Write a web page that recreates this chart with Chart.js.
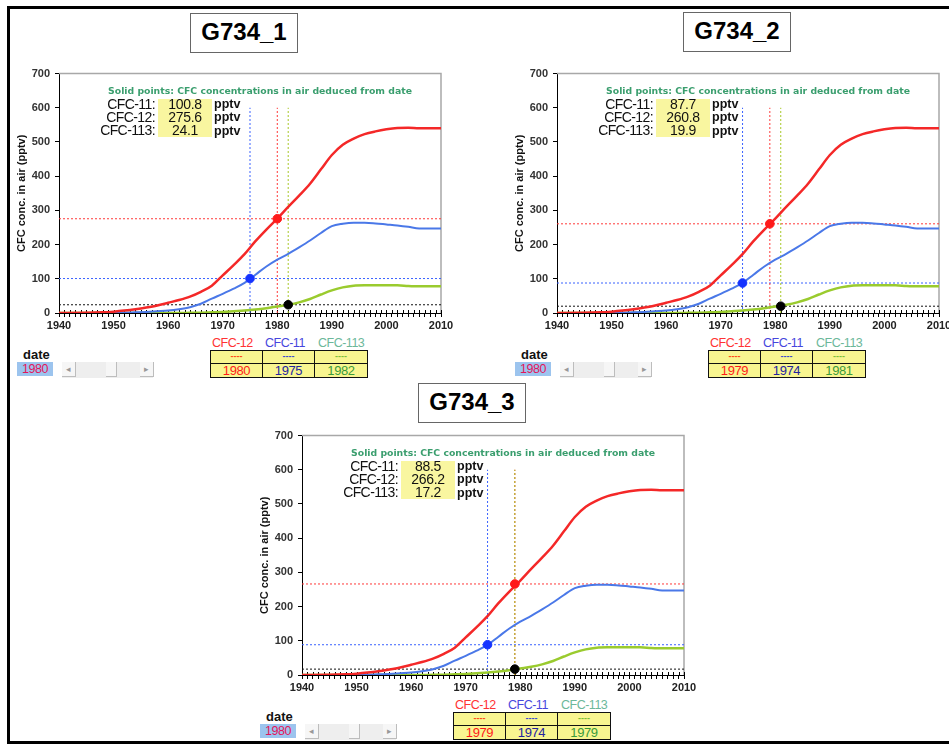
<!DOCTYPE html>
<html>
<head>
<meta charset="utf-8">
<script src="https://cdn.jsdelivr.net/npm/chart.js@4.4.0/dist/chart.umd.min.js"></script>
<style>
  body { margin: 0; width: 949px; height: 745px; overflow: hidden; position: relative; background: #fff;
         font-family: Arial, "Liberation Sans", sans-serif; }
  .frame { position: absolute; left: 7px; top: 6px; width: 990px; height: 738px; border: 3px solid #000; box-sizing: border-box; }
  .abs { position: absolute; white-space: nowrap; }
  .tbox { border: 1.5px solid #666; background: #fff; font: bold 24px Arial, "Liberation Sans", sans-serif;
          text-align: center; line-height: 36px; box-sizing: border-box; }
  canvas { position: absolute; }
  .note { font: bold 9.3px "DejaVu Sans", Verdana, sans-serif; color: #3a9e6e; text-align: center; line-height: 10px; }
  .lab { font-size: 14px; line-height: 13px; color: #111; text-align: right; letter-spacing: -0.6px; }
  .val { font-size: 14px; line-height: 13px; color: #111; text-align: center; letter-spacing: -0.3px; }
  .unit { font-size: 12.5px; font-weight: bold; line-height: 13px; color: #111; }
  .yel { background: #f9f6a0; }
  .head { font-size: 12.5px; line-height: 14px; letter-spacing: -0.5px; }
  .grid { display: grid; grid-template-columns: 1fr 1fr 1fr; grid-template-rows: 13px 13px; border: 1.5px solid #111;
          background: #f8f590; box-sizing: border-box; }
  .grid div { border-right: 1px solid #111; text-align: center; overflow: hidden; }
  .grid div:nth-child(3n) { border-right: none; }
  .grid div.r1 { border-bottom: 1px solid #111; font-size: 9px; line-height: 11px; font-weight: bold; }
  .grid div.r2 { font-size: 13px; line-height: 13px; letter-spacing: -0.4px; }
  .date { font-weight: bold; font-size: 13px; line-height: 14px; color: #111; }
  .dbox { background: #9cc4ee; color: #e3155a; font-size: 12.5px; line-height: 14px; text-align: center; letter-spacing: -0.4px; }
  .sb { background: #eeeeee; }
  .sb div { position: absolute; top: 0; height: 15px; background: #f6f6f6; border-right: 1px solid #bdbdbd;
            border-bottom: 1px solid #bdbdbd; box-sizing: border-box; font-size: 9px; color: #999; text-align: center; line-height: 14px; }
</style>
</head>
<body>
<div class="frame"></div>
<script>
// CFC concentrations in air (pptv) by year
const years = [1940, 1945, 1948, 1950, 1952, 1954, 1956, 1958, 1960, 1962, 1964, 1966, 1968, 1970, 1972, 1974, 1976,
  1978, 1980, 1982, 1984, 1986, 1988, 1990, 1992, 1994, 1996, 1998, 2000, 2002, 2004, 2006, 2008, 2010];
const cfc12 = [0, 0.5, 2, 4, 7, 11, 16, 22, 30, 38, 48, 62, 80, 110, 140, 172, 210, 244, 276, 310, 343, 378, 420,
  462, 492, 510, 523, 531, 537, 541, 542, 540, 540, 540];
const cfc11 = [0, 0, 0, 0.5, 1, 2, 3, 5, 7, 11, 17, 27, 42, 56, 71, 88, 112, 136, 156, 173, 192, 212, 234, 254,
  261, 264, 264, 262, 259, 256, 252, 247, 247, 247];
const cfc113 = [0, 0, 0, 0, 0, 0, 0, 0, 0, 0, 0.5, 1, 2, 3, 5, 7, 10, 14, 19, 24, 31, 41, 54, 66, 75, 80, 81, 81,
  81, 81, 79, 78, 78, 78];

// the three panels
const panelNames = ["G734_1", "G734_2", "G734_3"];
const sliderDates = [1980, 1980, 1980];
const dates12 = [1980, 1979, 1979];
const dates11 = [1975, 1974, 1974];
const dates113 = [1982, 1981, 1979];
const conc11 = [100.8, 87.7, 88.5];
const conc12 = [275.6, 260.8, 266.2];
const conc113 = [24.1, 19.9, 17.2];

const xRange = [1940, 2010];
const guideTop = 600;

// layout of panels on the page
const offsets = [[0, 0], [498, 0], [243, 362]];
const titlePos = [[190, 13], [683, 12], [418, 383]];

Chart.defaults.font.family = 'Arial, "Liberation Sans", sans-serif';
Chart.defaults.animation = false;

function xy(xs, ys) {
  return xs.map((x, i) => ({ x: x, y: ys[i] }));
}

function el(cls, left, top, w, h, text, style) {
  const d = document.createElement("div");
  d.className = "abs " + cls;
  d.style.left = left + "px";
  d.style.top = top + "px";
  if (w) d.style.width = w + "px";
  if (h) d.style.height = h + "px";
  if (text !== undefined && text !== null) d.textContent = text;
  if (style) Object.assign(d.style, style);
  document.body.appendChild(d);
  return d;
}

// gray top/right frame of plot + small year ticks inside the axis
const plotFrame = {
  id: "plotFrame",
  beforeDatasetsDraw(chart) {
    const { ctx, chartArea: a } = chart;
    ctx.save();
    ctx.strokeStyle = "#a8a8a8";
    ctx.lineWidth = 1.5;
    ctx.beginPath();
    ctx.moveTo(a.left, a.top);
    ctx.lineTo(a.right, a.top);
    ctx.lineTo(a.right, a.bottom);
    ctx.stroke();
    ctx.strokeStyle = "#000";
    ctx.lineWidth = 1;
    ctx.beginPath();
    chart.scales.x.ticks.forEach((t) => {
      const px = Math.round(chart.scales.x.getPixelForValue(t.value)) + 0.5;
      ctx.moveTo(px, a.bottom);
      ctx.lineTo(px, a.bottom - 3);
    });
    ctx.stroke();
    ctx.restore();
  },
};

function dashed(data, color) {
  return { data: data, borderColor: color, borderWidth: 1, borderDash: [2, 2], pointRadius: 0, fill: false };
}
function dot(x, y, color) {
  return { data: [{ x: x, y: y }], showLine: false, pointRadius: 4.3, pointBackgroundColor: color,
           pointBorderColor: color, borderColor: color };
}
function curve(ys, color, w) {
  return { data: xy(years, ys), borderColor: color, borderWidth: w, pointRadius: 0, cubicInterpolationMode: "monotone" };
}

function makePanel(i) {
  const [ox, oy] = offsets[i];

  el("tbox", titlePos[i][0], titlePos[i][1], 108, 40, panelNames[i]);

  const cv = document.createElement("canvas");
  cv.width = 450;
  cv.height = 272;
  cv.style.left = ox + 10 + "px";
  cv.style.top = oy + 62 + "px";
  document.body.appendChild(cv);

  new Chart(cv.getContext("2d"), {
    type: "line",
    data: {
      datasets: [
        dot(dates12[i], conc12[i], "#ff1a1a"),
        dot(dates11[i], conc11[i], "#1533ff"),
        dot(dates113[i], conc113[i], "#000"),
        curve(cfc12, "#f42828", 2.5),
        curve(cfc11, "#4a78e8", 2),
        curve(cfc113, "#9acb2e", 2.5),
        dashed([{ x: dates113[i], y: 0 }, { x: dates113[i], y: guideTop }], "#a8c828"),
        dashed([{ x: dates12[i], y: 0 }, { x: dates12[i], y: guideTop }], "#ff3a3a"),
        dashed([{ x: dates11[i], y: 0 }, { x: dates11[i], y: guideTop }], "#3a62ff"),
        dashed([{ x: xRange[0], y: conc12[i] }, { x: xRange[1], y: conc12[i] }], "#ff3a3a"),
        dashed([{ x: xRange[0], y: conc11[i] }, { x: xRange[1], y: conc11[i] }], "#3a62ff"),
        dashed([{ x: xRange[0], y: conc113[i] }, { x: xRange[1], y: conc113[i] }], "#111"),
      ],
    },
    options: {
      responsive: false,
      events: [],
      layout: { padding: { top: 11, right: 19, left: 0, bottom: 0 } },
      plugins: { legend: { display: false }, tooltip: { enabled: false } },
      scales: {
        x: {
          type: "linear",
          min: xRange[0],
          max: xRange[1],
          afterFit: (s) => { s.height = 21; },
          border: { color: "#000", width: 1 },
          grid: { drawOnChartArea: false, color: "#000", tickLength: 4 },
          ticks: {
            stepSize: 1,
            maxTicksLimit: 100,
            autoSkip: false,
            maxRotation: 0,
            padding: 2,
            color: "#222",
            font: { size: 11, weight: "bold" },
            callback: (v) => (v % 10 === 0 ? String(v) : ""),
          },
        },
        y: {
          min: 0,
          max: 700,
          afterFit: (s) => { s.width = 49; },
          border: { color: "#000", width: 1 },
          grid: { drawOnChartArea: false, color: "#000", tickLength: 4 },
          ticks: { stepSize: 100, padding: 5, color: "#333", font: { size: 11, weight: "bold" } },
          title: {
            display: true,
            text: "CFC conc. in air (pptv)",
            color: "#111",
            font: { size: 11, weight: "bold" },
            padding: { top: 5, bottom: 0 },
          },
        },
      },
    },
    plugins: [plotFrame],
  });

  // note and readout inside the plot
  el("note", ox + 60, oy + 86, 400, 10, "Solid points: CFC concentrations in air deduced from date");
  el("yel", ox + 158, oy + 99, 54, 38);
  const rows = [["CFC-11:", conc11[i]], ["CFC-12:", conc12[i]], ["CFC-113:", conc113[i]]];
  rows.forEach((r, k) => {
    const top = oy + 97.5 + k * 13.3;
    el("lab", ox + 85, top, 70, 13, r[0]);
    el("val", ox + 158, top, 54, 13, r[1].toFixed(1));
    el("unit", ox + 214, top + 0.5, 30, 13, "pptv");
  });

  // legend table under the plot
  el("head", ox + 212, oy + 336, 0, 14, "CFC-12", { color: "#ff3333" });
  el("head", ox + 265, oy + 336, 0, 14, "CFC-11", { color: "#4646dd" });
  el("head", ox + 318, oy + 336, 0, 14, "CFC-113", { color: "#6cb89a" });
  const g = el("grid", ox + 210, oy + 350, 158, 28);
  const cols = [["#ff4a1a", "#ff1a1a", dates12[i]], ["#3a4ad0", "#2424a0", dates11[i]], ["#7cc03a", "#3a9a3a", dates113[i]]];
  cols.forEach((c) => {
    const d = document.createElement("div");
    d.className = "r1";
    d.style.color = c[0];
    d.textContent = "----";
    g.appendChild(d);
  });
  cols.forEach((c) => {
    const d = document.createElement("div");
    d.className = "r2";
    d.style.color = c[1];
    d.textContent = c[2];
    g.appendChild(d);
  });

  // date widget
  el("date", ox + 23, oy + 348, 0, 14, "date");
  el("dbox", ox + 17, oy + 362, 36, 14, sliderDates[i]);
  const sb = el("sb", ox + 62, oy + 362, 91, 16);
  [[0, 14, "\u25C2"], [44, 11, ""], [78, 14, "\u25B8"]].forEach((b) => {
    const d = document.createElement("div");
    d.style.left = b[0] + "px";
    d.style.width = b[1] + "px";
    d.textContent = b[2];
    sb.appendChild(d);
  });
}

for (let i = 0; i < panelNames.length; i++) makePanel(i);
</script>
</body>
</html>
